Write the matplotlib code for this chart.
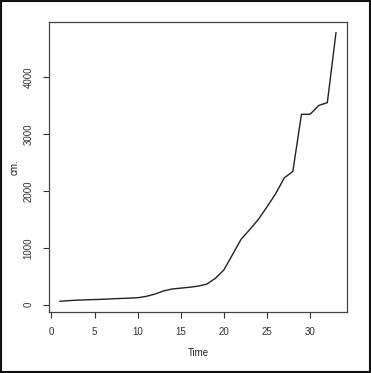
import matplotlib
matplotlib.use("Agg")
import matplotlib.pyplot as plt
from matplotlib.patches import Rectangle

# serie (Time = 1..33)
time = list(range(1, 34))
cm = [59, 70, 78, 84, 89, 94, 102, 108, 114, 121, 145, 185, 240, 275, 290,
      305, 325, 360, 460, 610, 880, 1150, 1320, 1500, 1720, 1950, 2230, 2345,
      3350, 3350, 3505, 3555, 4785]
xticks = [0, 5, 10, 15, 20, 25, 30]
yticks = [0, 1000, 2000, 3000, 4000]

plt.rcParams['font.family'] = ['Liberation Sans', 'DejaVu Sans']

fig = plt.figure(figsize=(3.71, 3.73), dpi=100)
ax = fig.add_axes([49 / 371, 1 - 312 / 373, 298 / 371, 290 / 373])

ax.plot(time, cm, color='#222222', lw=1.0)

# limites style R (etendue +4%)
xr = max(time) - min(time)
yr = max(cm) - min(cm)
ax.set_xlim(min(time) - 0.04 * xr, max(time) + 0.04 * xr)
ax.set_ylim(min(cm) - 0.04 * yr, max(cm) + 0.04 * yr)

ax.set_xticks(xticks)
ax.set_yticks(yticks)
ax.set_yticklabels([str(v) for v in yticks], rotation=90, va='center')
ax.tick_params(length=4, width=0.8, labelsize=7, colors='#333333')
ax.tick_params(axis='x', pad=7)
ax.tick_params(axis='y', pad=7)

for s in ax.spines.values():
    s.set_color('#444444')
    s.set_linewidth(0.9)

ax.set_xlabel('Time', fontsize=7, color='#222222', labelpad=8)
ax.set_ylabel('cm.', fontsize=7, color='#222222', labelpad=3)

# cadre autour de l'image
fig.patches.append(Rectangle((0.002, 0.002), 0.996, 0.996, transform=fig.transFigure,
                             fill=False, edgecolor='#111111', lw=1.5))

fig.savefig('out.png', dpi=100)
